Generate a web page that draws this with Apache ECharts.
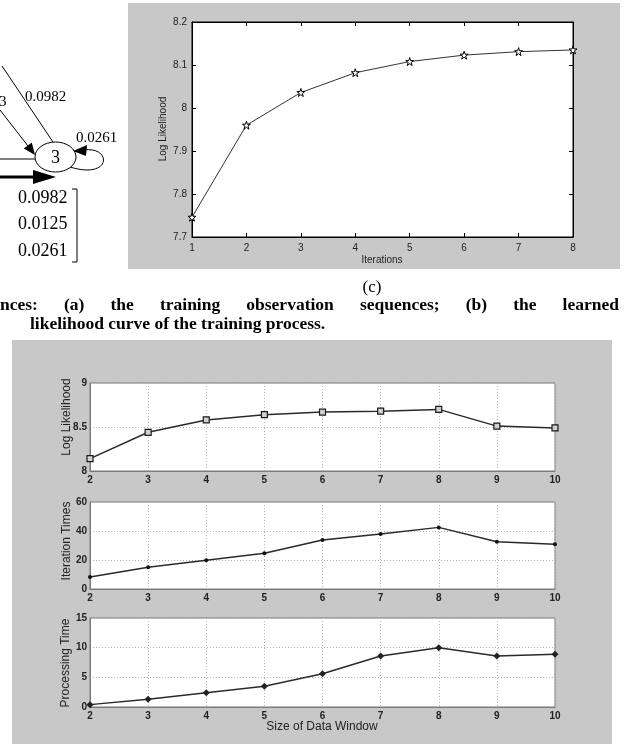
<!DOCTYPE html>
<html><head><meta charset="utf-8">
<script src="https://cdn.jsdelivr.net/npm/echarts@6/dist/echarts.min.js"></script>
<style>html,body{margin:0;padding:0;background:#fff}#c{width:626px;height:744px}</style>
</head><body><div id="c"></div>
<script>
// ---- data ----
const iterations = [1, 2, 3, 4, 5, 6, 7, 8];
const iterLogLik = [7.746, 7.960, 8.036, 8.082, 8.108, 8.123, 8.131, 8.135];
const windowSizes = [2, 3, 4, 5, 6, 7, 8, 9, 10];
const windowLogLik = [8.14, 8.44, 8.58, 8.64, 8.67, 8.68, 8.70, 8.51, 8.49];
const iterationTimes = [8.3, 15.0, 19.8, 24.6, 33.8, 37.9, 42.5, 32.6, 30.8];
const processingTime = [0.4, 1.3, 2.4, 3.5, 5.6, 8.6, 10.0, 8.6, 8.9];
const matrixColumn = ['0.0982', '0.0125', '0.0261'];
const captionLine1 = 'nces: (a) the training observation sequences; (b) the learned';
const captionLine2 = 'likelihood curve of the training process.';

const chart = echarts.init(document.getElementById('c'), null, {renderer: 'canvas'});
const serif = '"Liberation Serif","Times New Roman",serif';
const sans = '"Liberation Sans",Arial,sans-serif';
const STAR = 'path://M50,2 L61,36 L97,36 L68,57 L79,92 L50,71 L21,92 L32,57 L3,36 L39,36 Z';

function pairs(xs, ys) { return xs.map((x, i) => [x, ys[i]]); }
function fmt1(v) { return String(parseFloat(v.toFixed(2))); }

const G = []; // graphic elements
// gray panels
G.push({type: 'rect', z: -10, shape: {x: 128, y: 3, width: 492, height: 266}, style: {fill: '#c8c8c8'}});
G.push({type: 'rect', z: -10, shape: {x: 12, y: 340, width: 600, height: 404}, style: {fill: '#c8c8c8'}});

// partial state diagram (left)
const blk = {stroke: '#000', lineWidth: 1, fill: null};
G.push({type: 'line', shape: {x1: 2, y1: 66, x2: 53, y2: 142}, style: blk});
G.push({type: 'line', shape: {x1: 0, y1: 110, x2: 28, y2: 146}, style: blk});
G.push({type: 'polygon', shape: {points: [[35, 155], [23.8, 148.4], [31.8, 142.4]]}, style: {fill: '#000'}});
G.push({type: 'line', shape: {x1: 0, y1: 159, x2: 35, y2: 159}, style: blk});
G.push({type: 'line', shape: {x1: 0, y1: 177, x2: 36, y2: 177}, style: {stroke: '#000', lineWidth: 3}});
G.push({type: 'polygon', shape: {points: [[56, 177], [33, 170], [33, 184]]}, style: {fill: '#000'}});
G.push({type: 'bezierCurve', shape: {x1: 70, y1: 167, cpx1: 112, cpy1: 180, cpx2: 112, cpy2: 146, x2: 84, y2: 150}, style: blk});
G.push({type: 'ellipse', shape: {cx: 55.5, cy: 157, rx: 20.5, ry: 15}, style: {stroke: '#000', lineWidth: 1, fill: '#fff'}});
G.push({type: 'polygon', shape: {points: [[73, 151], [87, 145], [86, 156]]}, style: {fill: '#000'}});
G.push({type: 'text', x: 55.5, y: 158, style: {text: '3', font: '18px ' + serif, fill: '#000', textAlign: 'center', textVerticalAlign: 'middle'}});
G.push({type: 'text', x: 76, y: 138, style: {text: '0.0261', font: '15px ' + serif, fill: '#000', textAlign: 'left', textVerticalAlign: 'middle'}});
G.push({type: 'text', x: 25, y: 97, style: {text: '0.0982', font: '15px ' + serif, fill: '#000', textAlign: 'left', textVerticalAlign: 'middle'}});
G.push({type: 'text', x: -1, y: 102, style: {text: '3', font: '15px ' + serif, fill: '#000', textAlign: 'left', textVerticalAlign: 'middle'}});
matrixColumn.forEach((t, i) => {
  G.push({type: 'text', x: 18, y: 198 + i * 26.5, style: {text: t, font: '18px ' + serif, fill: '#000', textAlign: 'left', textVerticalAlign: 'middle'}});
});
G.push({type: 'polyline', shape: {points: [[72, 189], [77, 189], [77, 262], [72, 262]]}, style: {stroke: '#000', lineWidth: 1, fill: null}});

// captions
G.push({type: 'text', x: 372, y: 288, style: {text: '(c)', font: '17px ' + serif, fill: '#000', textAlign: 'center', textVerticalAlign: 'middle'}});
(function () {
  const ctx = document.createElement('canvas').getContext('2d');
  const font = 'bold 17.5px ' + serif;
  ctx.font = font;
  const words = captionLine1.split(' ');
  const w = words.map(s => ctx.measureText(s).width);
  const gap = (619 - w.reduce((a, b) => a + b, 0)) / (words.length - 1);
  let x = 0;
  words.forEach((s, i) => {
    G.push({type: 'text', x: x, y: 305, style: {text: s, font: font, fill: '#000', textAlign: 'left', textVerticalAlign: 'middle'}});
    x += w[i] + gap;
  });
  G.push({type: 'text', x: 30, y: 324, style: {text: captionLine2, font: font, fill: '#000', textAlign: 'left', textVerticalAlign: 'middle'}});
})();

// axis titles
G.push({type: 'text', x: 163, y: 129, rotation: Math.PI / 2, style: {text: 'Log Likelihood', font: '10px ' + sans, fill: '#222', textAlign: 'center', textVerticalAlign: 'middle'}});
G.push({type: 'text', x: 382, y: 260, style: {text: 'Iterations', font: '10px ' + sans, fill: '#222', textAlign: 'center', textVerticalAlign: 'middle'}});
G.push({type: 'text', x: 67, y: 417, rotation: Math.PI / 2, style: {text: 'Log Likelihood', font: '12px ' + sans, fill: '#222', textAlign: 'center', textVerticalAlign: 'middle'}});
G.push({type: 'text', x: 67, y: 541, rotation: Math.PI / 2, style: {text: 'Iteration Times', font: '12px ' + sans, fill: '#222', textAlign: 'center', textVerticalAlign: 'middle'}});
G.push({type: 'text', x: 66, y: 663, rotation: Math.PI / 2, style: {text: 'Processing Time', font: '12px ' + sans, fill: '#222', textAlign: 'center', textVerticalAlign: 'middle'}});
G.push({type: 'text', x: 322, y: 727, style: {text: 'Size of Data Window', font: '12px ' + sans, fill: '#222', textAlign: 'center', textVerticalAlign: 'middle'}});

const grids = [
  {left: 192, top: 22, width: 381, height: 215, show: true, backgroundColor: '#fff', borderColor: '#000', borderWidth: 1},
  {left: 90, top: 383, width: 465, height: 88, show: true, backgroundColor: '#fff', borderColor: '#7a7a7a', borderWidth: 1},
  {left: 90, top: 502, width: 465, height: 87, show: true, backgroundColor: '#fff', borderColor: '#7a7a7a', borderWidth: 1},
  {left: 90, top: 618, width: 465, height: 89, show: true, backgroundColor: '#fff', borderColor: '#7a7a7a', borderWidth: 1}
];

const topLabel = {fontSize: 10, color: '#222', fontFamily: sans};
const xAxes = [
  {gridIndex: 0, type: 'value', min: 1, max: 8, interval: 1, position: 'bottom',
    axisLine: {lineStyle: {color: '#000'}}, axisTick: {inside: true, length: 4, lineStyle: {color: '#000'}},
    axisLabel: Object.assign({margin: 6}, topLabel), splitLine: {show: false}},
  {gridIndex: 0, type: 'value', min: 1, max: 8, interval: 1, position: 'top',
    axisLine: {lineStyle: {color: '#000'}}, axisTick: {inside: true, length: 4, lineStyle: {color: '#000'}},
    axisLabel: {show: false}, splitLine: {show: false}}
];
const yAxes = [
  {gridIndex: 0, type: 'value', min: 7.7, max: 8.2, interval: 0.1, position: 'left',
    axisLine: {lineStyle: {color: '#000'}}, axisTick: {inside: true, length: 4, lineStyle: {color: '#000'}},
    axisLabel: Object.assign({margin: 5, formatter: fmt1}, topLabel), splitLine: {show: false}},
  {gridIndex: 0, type: 'value', min: 7.7, max: 8.2, interval: 0.1, position: 'right',
    axisLine: {lineStyle: {color: '#000'}}, axisTick: {inside: true, length: 4, lineStyle: {color: '#000'}},
    axisLabel: {show: false}, splitLine: {show: false}}
];
const botLabel = {fontSize: 10, fontWeight: 'bold', color: '#222', fontFamily: sans};
const dotted = {show: true, lineStyle: {color: '#b4b4b4', type: [1, 2], width: 1}};
const yRanges = [[8, 9, 0.5], [0, 60, 20], [0, 15, 5]];
[1, 2, 3].forEach((g, k) => {
  xAxes.push({gridIndex: g, type: 'value', min: 2, max: 10, interval: 1,
    axisLine: {lineStyle: {color: '#7a7a7a'}}, axisTick: {show: false},
    axisLabel: Object.assign({margin: 4}, botLabel), splitLine: dotted});
  yAxes.push({gridIndex: g, type: 'value', min: yRanges[k][0], max: yRanges[k][1], interval: yRanges[k][2],
    axisLine: {lineStyle: {color: '#7a7a7a'}}, axisTick: {show: false},
    axisLabel: Object.assign({margin: 3, formatter: fmt1}, botLabel), splitLine: dotted});
});

const lineStyleBot = {color: '#2a2a2a', width: 1.5};
const series = [
  {type: 'line', xAxisIndex: 0, yAxisIndex: 0, data: pairs(iterations, iterLogLik),
    symbol: STAR, symbolSize: 8, lineStyle: {color: '#333', width: 1},
    itemStyle: {color: '#fff', borderColor: '#000', borderWidth: 1}, animation: false},
  {type: 'line', xAxisIndex: 2, yAxisIndex: 2, data: pairs(windowSizes, windowLogLik),
    symbol: 'rect', symbolSize: 6, lineStyle: lineStyleBot,
    itemStyle: {color: '#d0d0d0', borderColor: '#1a1a1a', borderWidth: 1.2}, animation: false},
  {type: 'line', xAxisIndex: 3, yAxisIndex: 3, data: pairs(windowSizes, iterationTimes),
    symbol: 'circle', symbolSize: 4, lineStyle: lineStyleBot,
    itemStyle: {color: '#111', borderColor: '#111', borderWidth: 0}, animation: false},
  {type: 'line', xAxisIndex: 4, yAxisIndex: 4, data: pairs(windowSizes, processingTime),
    symbol: 'diamond', symbolSize: 7, lineStyle: lineStyleBot,
    itemStyle: {color: '#222', borderColor: '#222', borderWidth: 0}, animation: false}
];

chart.setOption({
  animation: false,
  backgroundColor: '#fff',
  grid: grids,
  xAxis: xAxes,
  yAxis: yAxes,
  series: series,
  graphic: {elements: G}
});
</script></body></html>
